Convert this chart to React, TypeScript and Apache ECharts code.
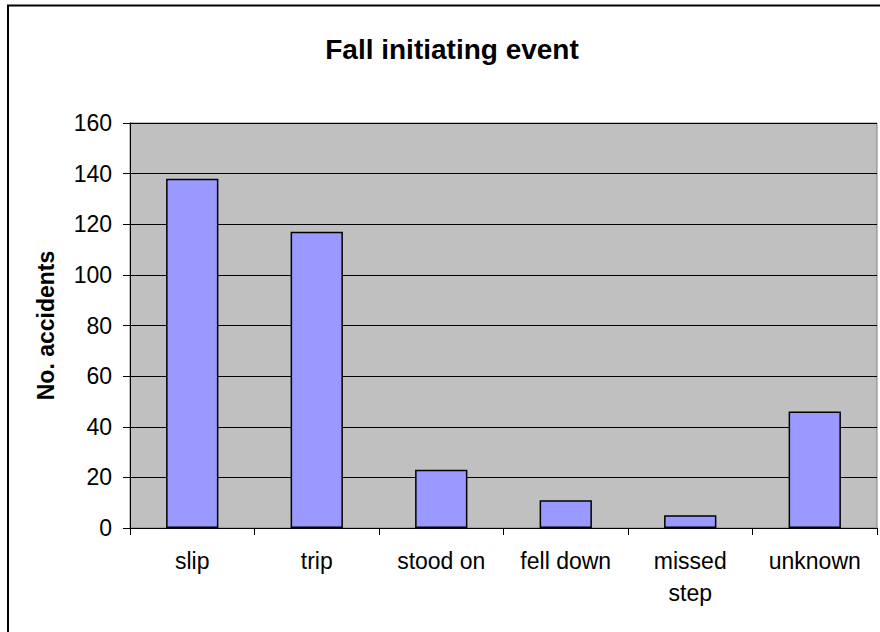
import React, { useEffect, useRef } from "react";
import * as echarts from "echarts";

const categories = ["slip", "trip", "stood on", "fell down", "missed\nstep", "unknown"];
const accidents = [138, 117, 23, 11, 5, 46];
const yTicks = { min: 0, max: 160, interval: 20 };

export default function App() {
  const ref = useRef<HTMLDivElement>(null);
  useEffect(() => {
    const chart = echarts.init(ref.current!, null, { renderer: "svg" });
    chart.setOption({
      animation: false,
      backgroundColor: "#ffffff",
      title: {
        text: "Fall initiating event",
        left: 447,
        top: 30,
        textAlign: "center",
        textStyle: { fontFamily: "Liberation Sans, Arial", fontWeight: "bold", fontSize: 28, color: "#000" },
      },
      graphic: [
        {
          type: "polyline",
          shape: { points: [[8, 700], [8, 5.5], [900, 5.5]] },
          style: { stroke: "#000", lineWidth: 2, fill: "none" },
          silent: true,
        },
      ],
      grid: { left: 130, top: 123, right: 3, bottom: 104, show: true, backgroundColor: "#c0c0c0", borderColor: "#808080", borderWidth: 1 },
      xAxis: {
        type: "category",
        data: categories,
        axisLine: { lineStyle: { color: "#000", width: 1 } },
        axisTick: { show: true, length: 7, lineStyle: { color: "#000" } },
        axisLabel: { fontFamily: "Liberation Sans, Arial", fontSize: 23, color: "#000", margin: 17, lineHeight: 32 },
      },
      yAxis: {
        type: "value",
        min: yTicks.min,
        max: yTicks.max,
        interval: yTicks.interval,
        name: "No. accidents",
        nameLocation: "middle",
        nameGap: 73,
        nameRotate: 90,
        nameTextStyle: { fontFamily: "Liberation Sans, Arial", fontWeight: "bold", fontSize: 23, color: "#000" },
        axisLine: { show: true, lineStyle: { color: "#000", width: 1 } },
        axisTick: { show: true, length: 7, lineStyle: { color: "#000" } },
        axisLabel: { fontFamily: "Liberation Sans, Arial", fontSize: 23, color: "#000", margin: 18 },
        splitLine: { show: true, lineStyle: { color: "#000", width: 1 } },
      },
      series: [
        {
          type: "bar",
          data: accidents,
          barWidth: "42%",
          itemStyle: { color: "#9999ff", borderColor: "#000", borderWidth: 1.5 },
        },
      ],
    });
    return () => chart.dispose();
  }, []);
  return <div ref={ref} style={{ position: "fixed", left: 0, top: 0, width: 880, height: 632 }} />;
}
